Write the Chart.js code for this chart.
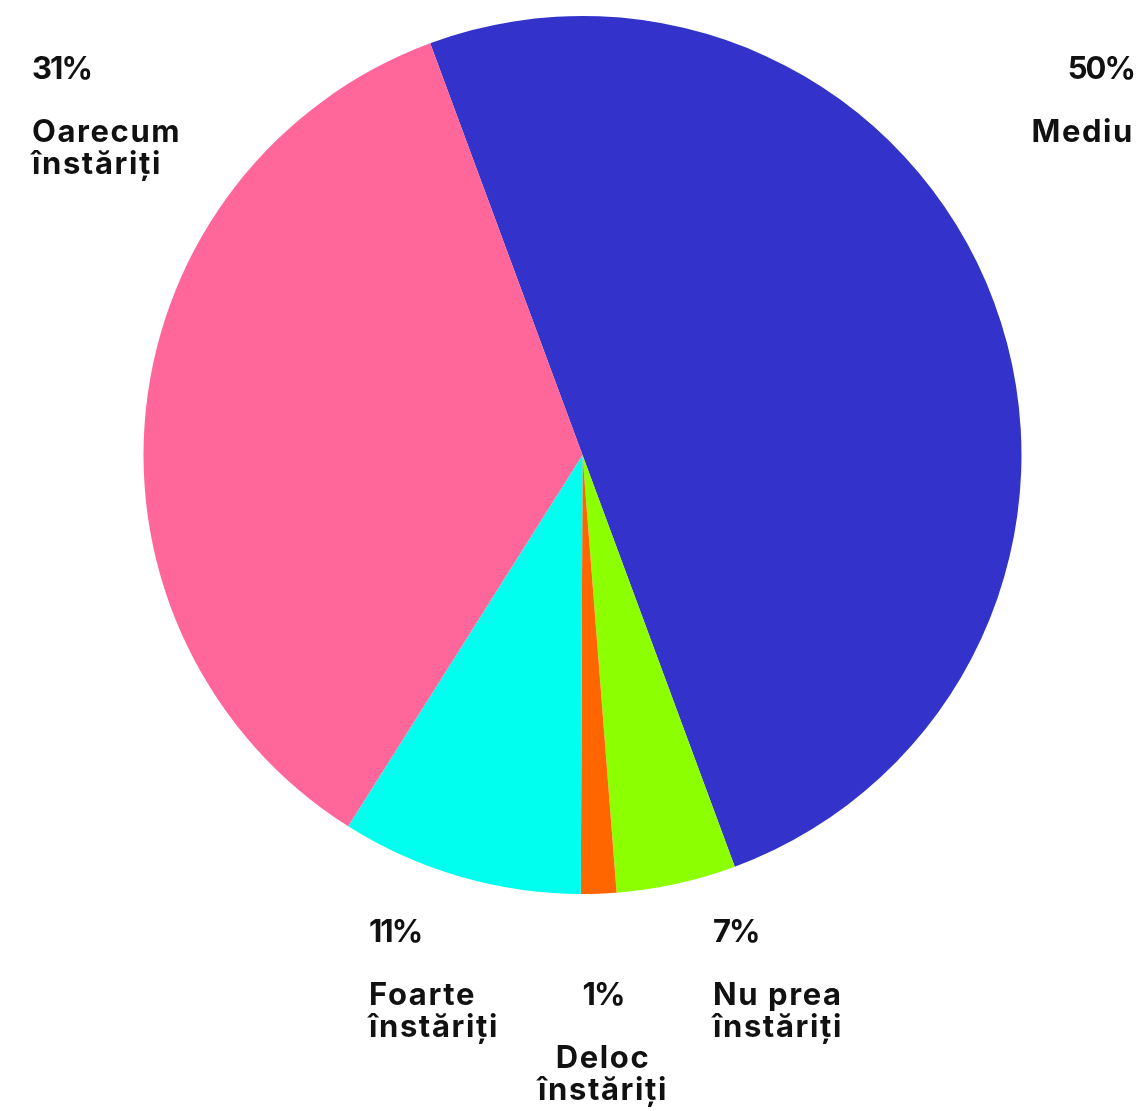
<!DOCTYPE html>
<html>
<head>
<meta charset="utf-8">
<script src="https://cdn.jsdelivr.net/npm/chart.js@4"></script>
<style>
  html, body { margin: 0; padding: 0; background: #ffffff; }
  #wrap { width: 1138px; height: 1111px; }
</style>
</head>
<body>
<div id="wrap"><canvas id="c" width="1138" height="1111"></canvas></div>
<script>
// Data
const categories = ["Mediu", "Nu prea înstăriți", "Deloc înstăriți", "Foarte înstăriți", "Oarecum înstăriți"];
const sliceValues = [50, 4.4, 1.3, 8.9, 35.4];
const labelPercents = ["50%", "7%", "1%", "11%", "31%"];
const labelLines = [["Mediu"], ["Nu prea", "înstăriți"], ["Deloc", "înstăriți"], ["Foarte", "înstăriți"], ["Oarecum", "înstăriți"]];
const colors = ["#3333CC", "#8CFF00", "#FF6600", "#00FFEE", "#FF6699"];

// Label placement (text layout only)
const labelLayout = [
  { x: 1134, y: 79,  align: "right" },
  { x: 713,  y: 942, align: "left" },
  { x: 603,  y: 1005, align: "center" },
  { x: 369,  y: 942, align: "left" },
  { x: 32,   y: 79,  align: "left" }
];
const FONT = "700 31px Inter";
const LINE_H = 31.5;

const labelPlugin = {
  id: "outerLabels",
  afterDraw(chart) {
    const ctx = chart.ctx;
    ctx.save();
    ctx.font = FONT;
    ctx.fillStyle = "#111111";
    ctx.textBaseline = "alphabetic";
    const hasLS = ('letterSpacing' in ctx);
    labelLayout.forEach((L, i) => {
      ctx.textAlign = L.align;
      if (hasLS) ctx.letterSpacing = "-2px";
      ctx.fillText(labelPercents[i], L.x, L.y);
      if (hasLS) ctx.letterSpacing = "1.6px";
      labelLines[i].forEach((t, j) => {
        ctx.fillText(t, L.x, L.y + (2 + j) * LINE_H);
      });
    });
    ctx.restore();
  }
};

new Chart(document.getElementById("c"), {
  type: "pie",
  data: {
    labels: categories,
    datasets: [{
      data: sliceValues,
      backgroundColor: colors,
      borderWidth: 0
    }]
  },
  options: {
    responsive: false,
    animation: false,
    rotation: -20.3,
    layout: { padding: { left: 143, right: 116, top: 16, bottom: 217 } },
    plugins: {
      legend: { display: false },
      tooltip: { enabled: false }
    }
  },
  plugins: [labelPlugin]
});
</script>
</body>
</html>
